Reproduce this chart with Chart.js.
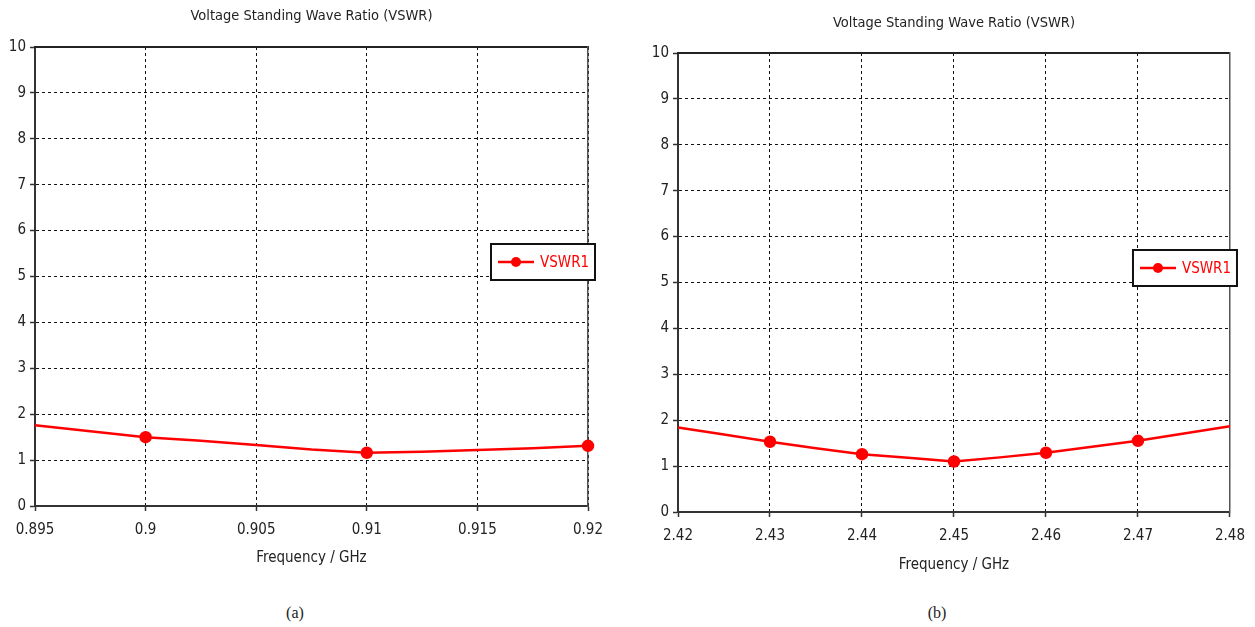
<!DOCTYPE html>
<html>
<head>
<meta charset="utf-8">
<script src="https://cdn.jsdelivr.net/npm/chart.js@4.4.1/dist/chart.umd.min.js"></script>
<style>
  html, body { margin: 0; padding: 0; background: #fff; }
  body { width: 1255px; height: 627px; position: relative; overflow: hidden; }
  .panel { position: absolute; top: 0; width: 627px; height: 590px; }
  .cap { position: absolute; top: 604px; font: 16px 'Liberation Serif', serif; color: #222; transform: translateX(-50%); }
</style>
</head>
<body>
<div class="panel" style="left:0"><canvas id="chartA"></canvas></div>
<div class="panel" style="left:628px"><canvas id="chartB"></canvas></div>
<div class="cap" style="left:295px">(a)</div>
<div class="cap" style="left:937px">(b)</div>
<script>
// (a) 900 MHz band
const freqA = [0.895, 0.8975, 0.9, 0.9025, 0.905, 0.9075, 0.91, 0.9125, 0.915, 0.9175, 0.92];
const vswrA = [1.76, 1.63, 1.50, 1.42, 1.33, 1.23, 1.16, 1.18, 1.22, 1.26, 1.31];
const markA = [0.9, 0.91, 0.92];
const xTicksA = [0.895, 0.9, 0.905, 0.91, 0.915, 0.92];

// (b) 2.45 GHz band
const freqB = [2.42, 2.425, 2.43, 2.435, 2.44, 2.445, 2.45, 2.455, 2.46, 2.465, 2.47, 2.475, 2.48];
const vswrB = [1.84, 1.69, 1.53, 1.39, 1.26, 1.18, 1.10, 1.19, 1.29, 1.42, 1.55, 1.71, 1.87];
const markB = [2.43, 2.44, 2.45, 2.46, 2.47];
const xTicksB = [2.42, 2.43, 2.44, 2.45, 2.46, 2.47, 2.48];

const yTicks = [0, 1, 2, 3, 4, 5, 6, 7, 8, 9, 10];

const chartTitle = 'Voltage Standing Wave Ratio (VSWR)';
const xTitle = 'Frequency / GHz';
const seriesName = 'VSWR1';

const RED = '#ff0000';
const FAMILY = "'Liberation Sans Narrow', 'DejaVu Sans Condensed', 'Liberation Sans', sans-serif";

// legend box sitting on the right edge of the plot
const boxLegend = {
    id: 'boxLegend',
    afterDraw(chart, args, opts) {
        const ctx = chart.ctx;
        const area = chart.chartArea;
        const ds = chart.data.datasets[0];
        const right = area.right + opts.right;
        const left = right - opts.width;
        const top = area.top + opts.top;
        const mid = top + opts.height / 2;
        ctx.save();
        ctx.fillStyle = '#fff';
        ctx.fillRect(left, top, opts.width, opts.height);
        ctx.strokeStyle = '#111';
        ctx.lineWidth = 2;
        ctx.strokeRect(left, top, opts.width, opts.height);
        ctx.strokeStyle = ds.borderColor;
        ctx.lineWidth = 2.5;
        ctx.beginPath();
        ctx.moveTo(left + 7, mid);
        ctx.lineTo(left + 43, mid);
        ctx.stroke();
        ctx.fillStyle = ds.borderColor;
        ctx.beginPath();
        ctx.arc(left + 25, mid, 5, 0, Math.PI * 2);
        ctx.fill();
        ctx.font = '15px ' + FAMILY;
        ctx.textBaseline = 'middle';
        ctx.fillText(ds.label, left + 49, mid + 1);
        ctx.restore();
    }
};

function buildChart(id, o) {
    const tickFont = { family: FAMILY, size: 15, lineHeight: 1.2 };
    return new Chart(document.getElementById(id), {
        type: 'line',
        data: {
            datasets: [{
                label: seriesName,
                data: o.freq.map((f, i) => ({ x: f, y: o.vswr[i] })),
                borderColor: RED,
                backgroundColor: RED,
                borderWidth: 2.5,
                tension: 0,
                clip: false,
                pointRadius: ctx => o.marks.some(m => Math.abs(m - o.freq[ctx.dataIndex]) < 1e-9) ? 5 : 0,
                pointHoverRadius: 0
            }]
        },
        options: {
            responsive: true,
            maintainAspectRatio: false,
            animation: false,
            layout: {
                padding: { left: 0, right: o.padRight, top: 0, bottom: 0 }
            },
            plugins: {
                legend: { display: false },
                tooltip: { enabled: false },
                boxLegend: { top: 197, right: 7, width: 104, height: 36 }
            },
            scales: {
                x: {
                    type: 'linear',
                    position: 'bottom',
                    min: o.freq[0],
                    max: o.freq[o.freq.length - 1],
                    afterBuildTicks: s => { s.ticks = o.xTicks.map(v => ({ value: v })); },
                    afterFit: s => { s.height = o.xAxisH; },
                    ticks: {
                        font: tickFont,
                        color: '#222',
                        padding: 10,
                        maxRotation: 0,
                        autoSkip: false,
                        callback: v => String(v)
                    },
                    grid: { color: '#111', lineWidth: 1, tickLength: 5, tickColor: '#333', tickWidth: 1.5, tickBorderDash: [] },
                    border: { color: '#333', width: 2, dash: [3, 3] },
                    title: {
                        display: true,
                        text: xTitle,
                        color: '#222',
                        font: { family: FAMILY, size: 15, lineHeight: 1.2 },
                        padding: { top: 0, bottom: o.xTitlePad }
                    }
                },
                y: {
                    type: 'linear',
                    position: 'left',
                    min: 0,
                    max: 10,
                    afterBuildTicks: s => { s.ticks = yTicks.map(v => ({ value: v })); },
                    afterFit: s => { s.width = o.yAxisW; },
                    ticks: { font: tickFont, color: '#222', padding: 4, callback: v => String(v) },
                    grid: { color: '#111', lineWidth: 1, tickLength: 5, tickColor: '#333', tickWidth: 1.5, tickBorderDash: [] },
                    border: { color: '#333', width: 2, dash: [3, 3] }
                },
                xTop: {
                    type: 'linear',
                    position: 'top',
                    min: o.freq[0],
                    max: o.freq[o.freq.length - 1],
                    afterFit: s => { s.height = o.topH; },
                    ticks: { display: false },
                    grid: { drawOnChartArea: false, drawTicks: false },
                    border: { color: '#222', width: 2 },
                    title: {
                        display: true,
                        text: chartTitle,
                        color: '#222',
                        font: { family: FAMILY, size: 14.5, lineHeight: 1.2 },
                        padding: { top: o.titlePad, bottom: 0 }
                    }
                },
                yRight: {
                    type: 'linear',
                    position: 'right',
                    min: 0,
                    max: 10,
                    afterFit: s => { s.width = 0; },
                    ticks: { display: false },
                    grid: { drawOnChartArea: false, drawTicks: false },
                    border: { color: '#555', width: 1.5 }
                }
            }
        },
        plugins: [boxLegend]
    });
}

buildChart('chartA', {
    freq: freqA, vswr: vswrA, marks: markA, xTicks: xTicksA,
    yAxisW: 35, padRight: 39, topH: 47, titlePad: 8, xAxisH: 84, xTitlePad: 23
});
buildChart('chartB', {
    freq: freqB, vswr: vswrB, marks: markB, xTicks: xTicksB,
    yAxisW: 50, padRight: 23, topH: 53, titlePad: 15, xAxisH: 78, xTitlePad: 16
});
</script>
</body>
</html>
